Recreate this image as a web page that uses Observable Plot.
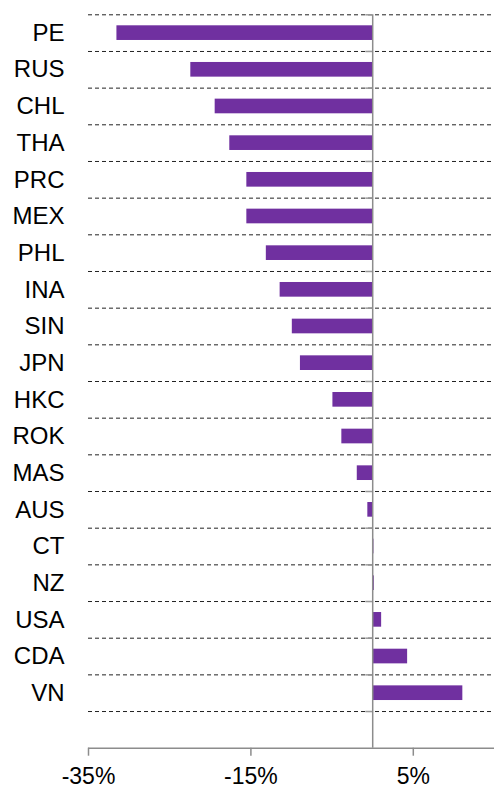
<!DOCTYPE html>
<html><head><meta charset="utf-8">
<script src="https://cdn.jsdelivr.net/npm/d3@7"></script>
<script src="https://cdn.jsdelivr.net/npm/@observablehq/plot@0.6"></script>
<style>body{margin:0;background:#fff}</style>
</head><body><div id="chart"></div>
<script>
const categories = ["PE","RUS","CHL","THA","PRC","MEX","PHL","INA","SIN","JPN","HKC","ROK","MAS","AUS","CT","NZ","USA","CDA","VN"];
const values = [-31.5,-22.4,-19.4,-17.6,-15.5,-15.5,-13.1,-11.4,-9.9,-8.9,-4.9,-3.8,-1.9,-0.6,0.15,0.2,1.1,4.3,11.1];
const xTicks = [-35,-15,5];
const xDomain = [-35,15];

const rows = categories.map((c,i)=>({name:c, i, value: values[i]}));
const nBands = categories.length + 1;
const boundaries = d3.range(categories.length + 1);

const chart = Plot.plot({
  width: 494, height: 789,
  marginLeft: 88, marginRight: 0, marginTop: 14.3, marginBottom: 41.3,
  style: {fontFamily: "'Liberation Sans', Arial, sans-serif", fontSize: "24px", color: "#000", background: "#fff"},
  x: {domain: xDomain},
  y: {domain: [0, nBands], reverse: true},
  marks: [
    Plot.ruleY(boundaries, {y: d => d, stroke: "#222", strokeDasharray: "4,3", strokeWidth: 1}),
    Plot.ruleY(boundaries, {y: d => d, x1: -0.85, x2: 0, stroke: "#999", strokeWidth: 1.5}),
    Plot.rect(rows, {x1: 0, x2: "value", y1: d => d.i + 0.3, y2: d => d.i + 0.7, fill: "#7030A0"}),
    Plot.ruleX([0], {stroke: "#8c8c8c", strokeWidth: 1.5}),
    Plot.ruleY([nBands], {stroke: "#8c8c8c", strokeWidth: 1.5}),
    Plot.axisX({ticks: xTicks, tickFormat: d => `${d}%`, tickSize: 8, tickPadding: 11, fontSize: 23, stroke: "#8c8c8c", strokeWidth: 1.5, label: null}),
    Plot.axisY({ticks: rows.map(d => d.i + 0.5), tickFormat: d => categories[Math.floor(d)], tickSize: 0, tickPadding: 24, label: null})
  ]
});
document.getElementById("chart").appendChild(chart);
</script>
</body></html>
